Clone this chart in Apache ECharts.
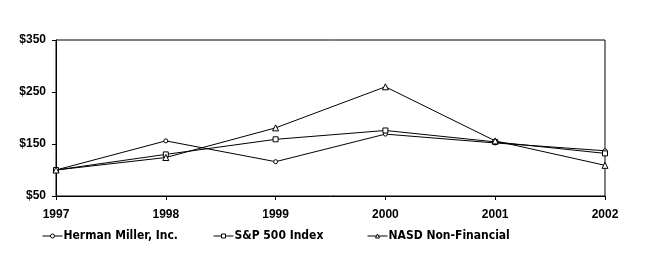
<!DOCTYPE html>
<html><head><meta charset="utf-8">
<script src="https://cdn.jsdelivr.net/npm/echarts@6/dist/echarts.min.js"></script>
<style>html,body{margin:0;padding:0;background:#fff}#c{width:650px;height:255px}</style>
</head><body><div id="c"></div>
<script>
const categories = ['1997','1998','1999','2000','2001','2002'];
const hermanMiller = [100, 156, 116, 169, 152, 137];
const sp500 = [100, 130, 159, 176, 154, 132];
const nasd = [100, 124, 181, 260, 156, 109];
const yTicks = [50, 150, 250, 350];
const seriesNames = ['Herman Miller, Inc.', 'S&P 500 Index', 'NASD Non-Financial'];

const font = 'Arial, "Liberation Sans", sans-serif';
const narrow = '"Liberation Sans Narrow", "Arial Narrow", "DejaVu Sans Condensed", Arial, sans-serif';
const chart = echarts.init(document.getElementById('c'), null, {renderer:'canvas'});
function mkSeries(name, data, symbol, size){
  return {name, type:'line', data, symbol, symbolSize:size, showAllSymbol:true,
    lineStyle:{color:'#000', width:1}, itemStyle:{color:'#fff', borderColor:'#000', borderWidth:1},
    emphasis:{disabled:true}, animation:false};
}
function mkLegend(name, left){
  return {data:[name], left, top:225, itemWidth:20, itemHeight:5, itemGap:2,
    itemStyle:{color:'#fff', borderColor:'#000', borderWidth:1},
    lineStyle:{color:'#000', width:1},
    textStyle:{fontFamily:narrow, fontWeight:'bold', fontSize:12, color:'#000', padding:[0,0,0,-4]}};
}
chart.setOption({
  animation:false,
  backgroundColor:'#fff',
  grid:{left:56, right:45, top:40, bottom:59, show:true, borderColor:'#000', borderWidth:1},
  xAxis:{type:'category', data:categories, boundaryGap:false,
    axisLine:{lineStyle:{color:'#000'}}, axisTick:{show:true, length:4, lineStyle:{color:'#000'}, alignWithLabel:true},
    axisLabel:{fontFamily:font, fontWeight:'bold', fontSize:12, color:'#000', margin:13}, splitLine:{show:false}},
  yAxis:{type:'value', min:50, max:350, interval:100,
    axisLine:{show:true, lineStyle:{color:'#000'}}, axisTick:{show:true, length:4, lineStyle:{color:'#000'}},
    axisLabel:{fontFamily:font, fontWeight:'bold', fontSize:12, color:'#000', margin:10,
      formatter: v => yTicks.includes(v) ? '$' + v : ''}, splitLine:{show:false}},
  legend:[mkLegend(seriesNames[0], 37), mkLegend(seriesNames[1], 208), mkLegend(seriesNames[2], 362)],
  series:[
    mkSeries(seriesNames[0], hermanMiller, 'circle', 4),
    mkSeries(seriesNames[1], sp500, 'rect', 5),
    mkSeries(seriesNames[2], nasd, 'triangle', 6)
  ]
});
</script></body></html>
